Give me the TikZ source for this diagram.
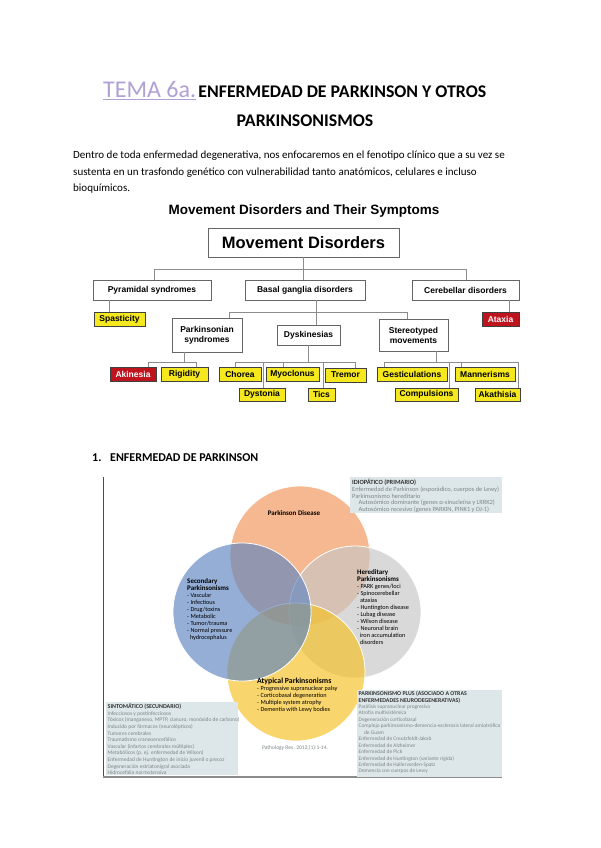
\documentclass[tikz,border=0pt]{standalone}
\usepackage{fontspec}
\setmainfont{Carlito}
\setsansfont{Liberation Sans}

\definecolor{lavtitle}{RGB}{176,160,212}
\definecolor{leafyellow}{RGB}{245,232,30}
\definecolor{leafred}{RGB}{190,20,30}
\definecolor{notefill}{RGB}{221,231,233}
\definecolor{notetext}{RGB}{125,132,136}
\definecolor{pdorange}{RGB}{240,147,86}
\definecolor{secblue}{RGB}{93,132,193}
\definecolor{heredgray}{RGB}{198,198,198}
\definecolor{atypyellow}{RGB}{247,193,32}

\begin{document}
\begin{tikzpicture}[x=1pt, y=-1pt,
    grp/.style={draw=black!60, line width=0.9pt, fill=white, inner sep=0pt, align=center,
        font=\sffamily\bfseries\fontsize{8.5}{10}\selectfont},
    leaf/.style={draw=black!75, line width=0.7pt, fill=leafyellow, inner sep=0pt,
        font=\sffamily\bfseries\fontsize{8.5}{9}\selectfont},
    redleaf/.style={leaf, fill=leafred, text=white},
    link/.style={draw=black!45, line width=0.8pt},
    venn/.style={draw=white, line width=0.8pt, fill opacity=0.65},
    vtext/.style={anchor=north west, align=left, inner sep=0pt, font=\fontsize{6.2}{7}\selectfont},
    notetxt/.style={anchor=north west, align=left, inner sep=0pt, text=notetext, font=\fontsize{6.4}{6.8}\selectfont}
]
    \useasboundingbox[fill=white] (0,0) rectangle (600,848);

    % ==========================================
    % Heading and intro text
    % ==========================================
    \node[anchor=base west, inner sep=0pt] (title) at (103,98)
        {{\color{lavtitle}\fontsize{24}{28}\selectfont\underline{TEMA 6a.}} {\bfseries\fontsize{17.8}{20}\selectfont ENFERMEDAD DE PARKINSON Y OTROS}};
    \node[anchor=base, inner sep=0pt, font=\bfseries\fontsize{17.8}{20}\selectfont] (title2) at (305,127) {PARKINSONISMOS};

    \node[anchor=base west, inner sep=0pt, font=\fontsize{11}{12}\selectfont] (intro1) at (73,158)
        {Dentro de toda enfermedad degenerativa, nos enfocaremos en el fenotipo clínico que a su vez se};
    \node[anchor=base west, inner sep=0pt, font=\fontsize{11}{12}\selectfont] (intro2) at (73,175)
        {sustenta en un trasfondo genético con vulnerabilidad tanto anatómicos, celulares e incluso};
    \node[anchor=base west, inner sep=0pt, font=\fontsize{11}{12}\selectfont] (intro3) at (73,191)
        {bioquímicos.};

    % ==========================================
    % Movement disorders tree
    % ==========================================
    \node[font=\sffamily\bfseries\fontsize{13.5}{16}\selectfont] (charttitle) at (304,211) {Movement Disorders and Their Symptoms};
    \node[grp, minimum width=191, minimum height=29, font=\sffamily\bfseries\fontsize{16.5}{18}\selectfont] (md) at (303.5,242.5) {Movement Disorders};

    % second level
    \node[grp, minimum width=118, minimum height=20] (pyr) at (152,290) {Pyramidal syndromes};
    \node[grp, minimum width=120, minimum height=20] (bg) at (305,290) {Basal ganglia disorders};
    \node[grp, minimum width=107, minimum height=20] (cer) at (465.5,290) {Cerebellar disorders};
    \node[leaf, minimum width=51, minimum height=14] (spas) at (119.5,319) {Spasticity};
    \node[redleaf, minimum width=37, minimum height=14] (atax) at (500.5,319) {Ataxia};

    % third level
    \node[grp, minimum width=70, minimum height=34] (park) at (207,335) {Parkinsonian\\syndromes};
    \node[grp, minimum width=63, minimum height=20] (dysk) at (308.5,335) {Dyskinesias};
    \node[grp, minimum width=69, minimum height=32] (stereo) at (413.5,335) {Stereotyped\\movements};

    % leaves
    \node[redleaf, minimum width=46, minimum height=14] (akin) at (133,374) {Akinesia};
    \node[leaf, minimum width=47, minimum height=14] (rigid) at (184.5,374) {Rigidity};
    \node[leaf, minimum width=42, minimum height=14] (chorea) at (240,374) {Chorea};
    \node[leaf, minimum width=53, minimum height=14] (myoc) at (292.5,374) {Myoclonus};
    \node[leaf, minimum width=41, minimum height=14] (tremor) at (345.5,375) {Tremor};
    \node[leaf, minimum width=46, minimum height=13] (dyst) at (262,394.5) {Dystonia};
    \node[leaf, minimum width=27, minimum height=13] (tics) at (321.5,394.5) {Tics};
    \node[leaf, minimum width=70, minimum height=14] (gest) at (412,374) {Gesticulations};
    \node[leaf, minimum width=60, minimum height=14] (mann) at (485,374) {Mannerisms};
    \node[leaf, minimum width=63, minimum height=13] (comp) at (426.5,394.5) {Compulsions};
    \node[leaf, minimum width=45, minimum height=13] (akat) at (497.5,394.5) {Akathisia};

    % bus points
    \coordinate (busL) at (154,269);
    \coordinate (busR) at (466,269);
    \coordinate (pyrD) at (109,300);
    \coordinate (cerD) at (509,300);
    \coordinate (bgD) at (316,300);
    \coordinate (bgL) at (229,312);
    \coordinate (bgR) at (407,312);
    \coordinate (parkD) at (184,352);
    \coordinate (parkL) at (148,362);
    \coordinate (parkR) at (196,362);
    \coordinate (dyskD) at (308,345);
    \coordinate (dyskL) at (235,362);
    \coordinate (dyskR) at (355,362);
    \coordinate (dystD) at (263,362);
    \coordinate (myocD) at (283,362);
    \coordinate (ticsD) at (323,362);
    \coordinate (sterD) at (436,351);
    \coordinate (sterL) at (384,362);
    \coordinate (sterR) at (518,362);
    \coordinate (compD) at (449,362);
    \coordinate (mannD) at (461,362);

    % connectors
    \draw[link] (md.south) -- (md.south |- bg.north);
    \draw[link] (busL) -- (busR);
    \draw[link] (busL) -- (busL |- pyr.north);
    \draw[link] (busR) -- (busR |- cer.north);
    \draw[link] (pyrD) -- (pyrD |- spas.north);
    \draw[link] (cerD) -- (cerD |- atax.north);
    \draw[link] (bgD) -- (bgD |- dysk.north);
    \draw[link] (bgL) -- (bgR);
    \draw[link] (bgL) -- (bgL |- park.north);
    \draw[link] (bgR) -- (bgR |- stereo.north);

    \draw[link] (parkD) -- (parkD |- parkL);
    \draw[link] (parkL) -- (parkR);
    \draw[link] (parkL) -- (parkL |- akin.north);
    \draw[link] (parkR) -- (parkR |- rigid.north);

    \draw[link] (dyskD) -- (dyskD |- dyskL);
    \draw[link] (dyskL) -- (dyskR);
    \draw[link] (dyskL) -- (dyskL |- chorea.north);
    \draw[link] (dystD) -- (dystD |- dyst.north);
    \draw[link] (myocD) -- (myocD |- myoc.north);
    \draw[link] (ticsD) -- (ticsD |- tics.north);
    \draw[link] (dyskR) -- (dyskR |- tremor.north);

    \draw[link] (sterD) -- (sterD |- sterL);
    \draw[link] (sterL) -- (sterR);
    \draw[link] (sterL) -- (sterL |- gest.north);
    \draw[link] (compD) -- (compD |- comp.north);
    \draw[link] (mannD) -- (mannD |- mann.north);
    \draw[link] (sterR) -- (sterR |- akat.north);

    % ==========================================
    % Section 1 heading
    % ==========================================
    \node[anchor=base west, inner sep=0pt, font=\bfseries\fontsize{12}{13}\selectfont] (secnum) at (92,461) {1.};
    \node[anchor=base west, inner sep=0pt, font=\bfseries\fontsize{12}{13}\selectfont] (sechead) at (110,461) {ENFERMEDAD DE PARKINSON};

    % ==========================================
    % Venn figure of parkinsonisms
    % ==========================================
    \draw[black!70, line width=0.9pt] (103,477) -- (103,777);
    \draw[black!45, line width=2pt] (103,777) -- (502,777);

    % circles (orange, gray, yellow, blue on top)
    \filldraw[venn, fill=pdorange] (300,556) circle[radius=70pt];
    \filldraw[venn, fill=heredgray] (355,612) circle[radius=66pt];
    \filldraw[venn, fill=atypyellow] (296,672) circle[radius=69pt];
    \filldraw[venn, fill=secblue] (242,612) circle[radius=69pt];

    \node[font=\bfseries\fontsize{7}{8}\selectfont] (pdlabel) at (294,513) {Parkinson Disease};
    \node[vtext] (seclabel) at (187,578)
        {\textbf{\fontsize{7}{7}\selectfont Secondary}\\ \textbf{\fontsize{7}{7}\selectfont Parkinsonisms}\\
         - Vascular\\ - Infectious\\ - Drug/toxins\\ - Metabolic\\ - Tumor/trauma\\ - Normal pressure\\ \ \ hydrocephalus};
    \node[vtext] (herlabel) at (357,569)
        {\textbf{\fontsize{7}{7}\selectfont Hereditary}\\ \textbf{\fontsize{7}{7}\selectfont Parkinsonisms}\\
         - PARK genes/loci\\ - Spinocerebellar\\ \ \ ataxias\\ - Huntington disease\\ - Lubag disease\\ - Wilson disease\\
         - Neuronal brain\\ \ \ iron accumulation\\ \ \ disorders};
    \node[vtext] (atylabel) at (257,678)
        {\textbf{\fontsize{7.8}{7.5}\selectfont Atypical Parkinsonisms}\\ - Progressive supranuclear palsy\\
         - Corticobasal degeneration\\ - Multiple system atrophy\\ - Dementia with Lewy bodies};
    \node[text=notetext, font=\fontsize{5.5}{6}\selectfont] (cite) at (295,748) {Pathology Res. 2012;(1):1-14.};

    % note boxes
    \fill[notefill] (350,477) rectangle (502,513);
    \node[notetxt] (idiop) at (352,479)
        {\textcolor{black!80}{\textbf{IDIOPÁTICO (PRIMARIO)}}\\
         Enfermedad de Parkinson (esporádico, cuerpos de Lewy)\\
         Parkinsonismo hereditario\\
         \quad Autosómico dominante (genes α-sinucleína y LRRK2)\\
         \quad Autosómico recesivo (genes PARKIN, PINK1 y DJ-1)};

    \fill[notefill] (106,702) rectangle (238,775);
    \node[notetxt, font=\fontsize{5.5}{6.6}\selectfont] (sintom) at (107.5,703.5)
        {\textcolor{black!80}{\textbf{\fontsize{6}{6.6}\selectfont SINTOMÁTICO (SECUNDARIO)}}\\
         Infecciosos y postinfecciosos\\
         Tóxicos (manganeso, MPTP, cianuro, monóxido de carbono)\\
         Inducido por fármacos (neurolépticos)\\
         Tumores cerebrales\\
         Traumatismo craneoencefálico\\
         Vascular (infartos cerebrales múltiples)\\
         Metabólicos (p. ej. enfermedad de Wilson)\\
         Enfermedad de Huntington de inicio juvenil o precoz\\
         Degeneración estriatonigral asociada\\
         Hidrocefalia normotensiva};

    \fill[notefill] (357,690) rectangle (502,777);
    \node[notetxt, font=\fontsize{5.4}{6.45}\selectfont] (plus) at (358.5,691)
        {\textcolor{black!80}{\textbf{\fontsize{5.9}{6.45}\selectfont PARKINSONISMO PLUS (ASOCIADO A OTRAS}}\\
         \textcolor{black!80}{\textbf{\fontsize{5.9}{6.45}\selectfont ENFERMEDADES NEURODEGENERATIVAS)}}\\
         Parálisis supranuclear progresiva\\
         Atrofia multisistémica\\
         Degeneración corticobasal\\
         Complejo parkinsonismo-demencia-esclerosis lateral amiotrófica\\
         \quad de Guam\\
         Enfermedad de Creutzfeldt-Jakob\\
         Enfermedad de Alzheimer\\
         Enfermedad de Pick\\
         Enfermedad de Huntington (variante rígida)\\
         Enfermedad de Hallervorden-Spatz\\
         Demencia con cuerpos de Lewy};
\end{tikzpicture}
\end{document}
